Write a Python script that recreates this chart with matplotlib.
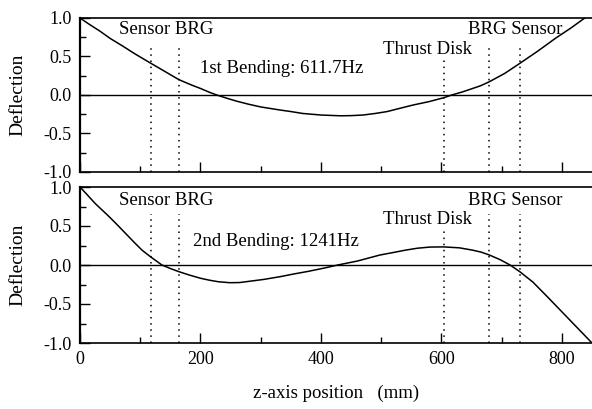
import matplotlib
matplotlib.use("Agg")
import matplotlib.pyplot as plt
from matplotlib.ticker import MultipleLocator, FormatStrFormatter

plt.rcParams['font.family'] = ['Liberation Serif', 'DejaVu Serif']
plt.rcParams['axes.unicode_minus'] = False

# ---- data ----
mode1_z = [0, 15, 33, 50, 70, 90, 118, 140, 164, 185, 200, 215, 227, 245, 260, 280,
           300, 332, 350, 370, 400, 432, 450, 470, 490, 510, 530, 553, 580, 604, 617,
           635, 650, 665, 679, 705, 730, 760, 790, 815, 838, 850]
mode1_d = [1.0, 0.92, 0.83, 0.735, 0.64, 0.54, 0.41, 0.31, 0.20, 0.13, 0.085, 0.035,
           0.0, -0.045, -0.08, -0.12, -0.155, -0.195, -0.215, -0.24, -0.26, -0.27,
           -0.268, -0.26, -0.24, -0.215, -0.175, -0.13, -0.085, -0.035, 0.0, 0.04,
           0.08, 0.12, 0.17, 0.28, 0.41, 0.57, 0.74, 0.87, 1.0, 1.07]

mode2_z = [0, 12, 25, 47, 60, 75, 90, 103, 118, 136, 150, 164, 182, 200, 215, 230,
           249, 265, 280, 305, 332, 355, 380, 405, 428, 460, 498, 520, 540, 560, 581,
           604, 630, 652, 666, 679, 697, 714, 730, 752, 775, 800, 825, 850]
mode2_d = [1.0, 0.9, 0.79, 0.63, 0.53, 0.41, 0.29, 0.19, 0.10, 0.0, -0.045, -0.085,
           -0.13, -0.17, -0.195, -0.215, -0.227, -0.225, -0.21, -0.185, -0.15, -0.115,
           -0.08, -0.04, 0.0, 0.05, 0.128, 0.16, 0.19, 0.215, 0.23, 0.232, 0.22, 0.19,
           0.165, 0.13, 0.07, 0.0, -0.085, -0.22, -0.40, -0.60, -0.80, -1.0]

mode_titles = ["1st Bending: 611.7Hz", "2nd Bending: 1241Hz"]

component_z = [118, 164, 604, 679, 730]
component_top = [0.65, 0.65, 0.48, 0.65, 0.65]
left_label = "Sensor BRG"
mid_label = "Thrust Disk"
right_label = "BRG Sensor"

xlim = (0, 850)
ylim = (-1.0, 1.0)

# ---- figure ----
fig = plt.figure(figsize=(5.92, 4.09), dpi=100)
W, H = 592.0, 409.0
ax1 = fig.add_axes([80 / W, 1 - 172 / H, 1 - 80 / W, (172 - 18) / H])
ax2 = fig.add_axes([80 / W, 1 - 343 / H, 1 - 80 / W, (343 - 187) / H])

series = [(mode1_z, mode1_d), (mode2_z, mode2_d)]
title_pos = [(199, 0.286), (187, 0.245)]
label_base = [(0.786, 0.53), (0.77, 0.526)]

for i, ax in enumerate([ax1, ax2]):
    z, d = series[i]
    ax.plot(z, d, color='black', lw=1.1, solid_joinstyle='round')
    ax.axhline(0, color='black', lw=1.0)
    for zc, top in zip(component_z, component_top):
        ax.plot([zc, zc], [ylim[0], top], color='black', lw=1.1,
                linestyle=(0, (1, 3)))
    ax.set_xlim(*xlim)
    ax.set_ylim(*ylim)
    ax.xaxis.set_major_locator(MultipleLocator(200))
    ax.xaxis.set_minor_locator(MultipleLocator(100))
    ax.yaxis.set_major_locator(MultipleLocator(0.5))
    ax.yaxis.set_minor_locator(MultipleLocator(0.25))
    ax.yaxis.set_major_formatter(FormatStrFormatter('%.1f'))
    ax.tick_params(which='both', direction='in', top=False, right=False,
                   labelsize=13, color='black', width=1.0)
    ax.tick_params(which='major', length=7, pad=6)
    ax.tick_params(which='minor', length=4.5)
    ax.spines['right'].set_visible(False)
    ax.spines['left'].set_linewidth(1.6)
    ax.spines['bottom'].set_linewidth(1.2)
    ax.spines['top'].set_linewidth(1.2)
    ax.set_ylabel("Deflection", fontsize=14)
    ax.yaxis.set_label_coords(-0.105, 0.5)

    fs = 13.5
    ax.text(65, label_base[i][0], left_label, fontsize=fs, ha='left', va='baseline')
    ax.text(644, label_base[i][0], right_label, fontsize=fs, ha='left', va='baseline')
    ax.text(503, label_base[i][1], mid_label, fontsize=fs, ha='left', va='baseline')
    ax.text(title_pos[i][0], title_pos[i][1], mode_titles[i], fontsize=fs,
            ha='left', va='baseline')

ax1.tick_params(labelbottom=False)
fig.text(336 / W, 1 - 393 / H, "z-axis position   (mm)", fontsize=13.5,
         ha='center', va='center')

fig.savefig("out.png", dpi=100)
